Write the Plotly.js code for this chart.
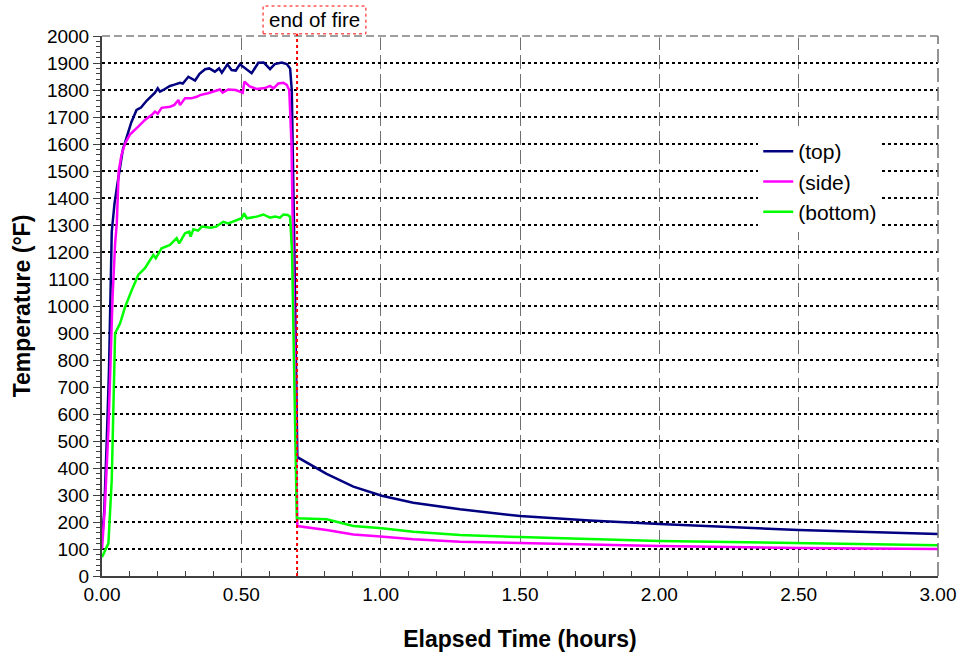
<!DOCTYPE html>
<html>
<head>
<meta charset="utf-8">
<script src="https://cdn.plot.ly/plotly-3.0.1.min.js"></script>
<style>html,body{margin:0;padding:0;background:#fff;}#chart{width:964px;height:658px;}</style>
</head>
<body>
<div id="chart"></div>
<script>
// ---- data (hours, °F) ----
const seriesNames = ["(top)", "(side)", "(bottom)"];
const topTime = [0, 0.008, 0.017, 0.025, 0.035, 0.045, 0.055, 0.065, 0.075, 0.09, 0.105, 0.124, 0.14, 0.16, 0.175, 0.184, 0.19, 0.2, 0.208, 0.22, 0.244, 0.26, 0.28, 0.29, 0.31, 0.334, 0.35, 0.37, 0.385, 0.405, 0.42, 0.43, 0.45, 0.465, 0.48, 0.495, 0.515, 0.537, 0.561, 0.58, 0.603, 0.62, 0.645, 0.663, 0.675, 0.681, 0.689, 0.697, 0.701, 0.806, 0.902, 1.004, 1.117, 1.285, 1.5, 1.75, 2.0, 2.5, 3.0];
const topTemp = [130, 240, 500, 760, 1275, 1380, 1450, 1510, 1580, 1630, 1680, 1726, 1735, 1760, 1775, 1781, 1790, 1806, 1794, 1800, 1815, 1820, 1827, 1824, 1849, 1835, 1860, 1877, 1880, 1868, 1880, 1864, 1895, 1874, 1872, 1895, 1880, 1862, 1901, 1902, 1877, 1896, 1902, 1896, 1880, 1800, 1300, 650, 440, 378, 331, 297, 271, 247, 222, 206, 193, 170, 156];

const sideTime = [0, 0.01, 0.023, 0.038, 0.047, 0.053, 0.06, 0.07, 0.083, 0.1, 0.13, 0.155, 0.178, 0.19, 0.2, 0.214, 0.244, 0.26, 0.274, 0.28, 0.298, 0.32, 0.34, 0.352, 0.38, 0.4, 0.423, 0.433, 0.453, 0.48, 0.505, 0.511, 0.53, 0.555, 0.585, 0.603, 0.615, 0.633, 0.651, 0.663, 0.672, 0.68, 0.69, 0.698, 0.701, 0.806, 0.902, 1.0, 1.117, 1.285, 1.5, 2.0, 2.5, 3.0];
const sideTemp = [100, 250, 541, 1034, 1230, 1306, 1500, 1560, 1602, 1635, 1664, 1690, 1707, 1720, 1712, 1734, 1738, 1745, 1763, 1744, 1769, 1769, 1775, 1781, 1788, 1795, 1802, 1790, 1802, 1800, 1790, 1831, 1813, 1804, 1807, 1815, 1806, 1824, 1827, 1819, 1800, 1600, 900, 300, 185, 170, 154, 146, 136, 127, 122, 111, 104, 100];

const bottomTime = [0, 0.012, 0.023, 0.035, 0.047, 0.065, 0.083, 0.107, 0.13, 0.154, 0.184, 0.193, 0.214, 0.244, 0.268, 0.277, 0.298, 0.313, 0.318, 0.328, 0.345, 0.358, 0.39, 0.41, 0.435, 0.453, 0.48, 0.501, 0.51, 0.52, 0.555, 0.579, 0.603, 0.621, 0.639, 0.651, 0.666, 0.675, 0.682, 0.69, 0.697, 0.699, 0.806, 0.902, 1.004, 1.117, 1.285, 1.5, 2.0, 2.5, 3.0];
const bottomTemp = [70, 100, 121, 356, 899, 936, 997, 1059, 1115, 1140, 1189, 1177, 1214, 1226, 1251, 1232, 1269, 1275, 1257, 1284, 1279, 1294, 1290, 1294, 1312, 1306, 1318, 1325, 1343, 1325, 1331, 1339, 1327, 1331, 1327, 1339, 1337, 1331, 1200, 700, 230, 214, 210, 185, 177, 164, 152, 144, 130, 122, 114];

const endOfFire = 0.7;
const xTicks = [0, 0.5, 1, 1.5, 2, 2.5, 3];

const FONT = "Liberation Sans, Arial, sans-serif";
const colors = ["#000080", "#FF00FF", "#00FF00"];
const xs = [topTime, sideTime, bottomTime];
const ys = [topTemp, sideTemp, bottomTemp];

const traces = seriesNames.map((n, i) => ({
  x: xs[i], y: ys[i], name: n, type: "scatter", mode: "lines",
  line: {color: colors[i], width: 2.5}
}));

const layout = {
  width: 964, height: 658,
  margin: {l: 102, r: 26, t: 36, b: 82},
  paper_bgcolor: "#fff", plot_bgcolor: "#fff",
  font: {family: FONT, size: 19, color: "#000"},
  showlegend: true,
  legend: {x: 0.785, y: 0.824, xanchor: "left", yanchor: "top", bgcolor: "#fff",
           borderwidth: 0, font: {family: FONT, size: 21}, itemwidth: 30},
  xaxis: {
    range: [0, 3], tickvals: xTicks, tickformat: ".2f",
    showgrid: true, gridcolor: "#707070", gridwidth: 1, griddash: "14px,5px",
    showline: true, linecolor: "#404040", linewidth: 2,
    ticks: "inside", ticklen: 5, tickcolor: "#404040",
    minor: {dtick: 0.1, ticks: "inside", ticklen: 5, tickcolor: "#404040", showgrid: false},
    zeroline: false, tickfont: {size: 19},
    title: {text: "<b>Elapsed Time (hours)</b>", font: {size: 23}, standoff: 27}
  },
  yaxis: {
    range: [0, 2000], dtick: 100,
    showgrid: true, gridcolor: "#000", gridwidth: 2.5, griddash: "dot",
    showline: true, linecolor: "#404040", linewidth: 2,
    ticks: "outside", ticklen: 7, tickcolor: "#404040",
    minor: {dtick: 20, ticks: "outside", ticklen: 4, tickcolor: "#404040", showgrid: false},
    zeroline: false, tickfont: {size: 19},
    title: {text: "<b>Temperature (°F)</b>", font: {size: 23}, standoff: 10}
  },
  shapes: [
    {type: "line", xref: "paper", yref: "paper", x0: 0, x1: 1, y0: 1, y1: 1, line: {color: "#fff", width: 3}},
    {type: "line", xref: "paper", yref: "paper", x0: 0, x1: 1, y0: 1, y1: 1, line: {color: "#808080", width: 1.5, dash: "8px,4px"}},
    {type: "line", xref: "paper", yref: "paper", x0: 1, x1: 1, y0: 0, y1: 1, line: {color: "#707070", width: 1.5, dash: "14px,5px"}},
    {type: "line", xref: "x", yref: "paper", x0: endOfFire, x1: endOfFire, y0: 0, y1: 1.004, line: {color: "#FF0000", width: 2, dash: "dot"}},
    {type: "rect", xref: "x", yref: "paper", x0: 0.578, x1: 0.947, y0: 1.004, y1: 1.0555, line: {color: "#FF0000", width: 1, dash: "dot"}, fillcolor: "rgba(0,0,0,0)"}
  ],
  annotations: [
    {text: "end of fire", xref: "x", yref: "paper", x: 0.7625, y: 1.0297, xanchor: "center", yanchor: "middle",
     showarrow: false, font: {family: FONT, size: 20.5, color: "#000"}}
  ]
};

Plotly.newPlot("chart", traces, layout, {displayModeBar: false, staticPlot: true});
</script>
</body>
</html>
